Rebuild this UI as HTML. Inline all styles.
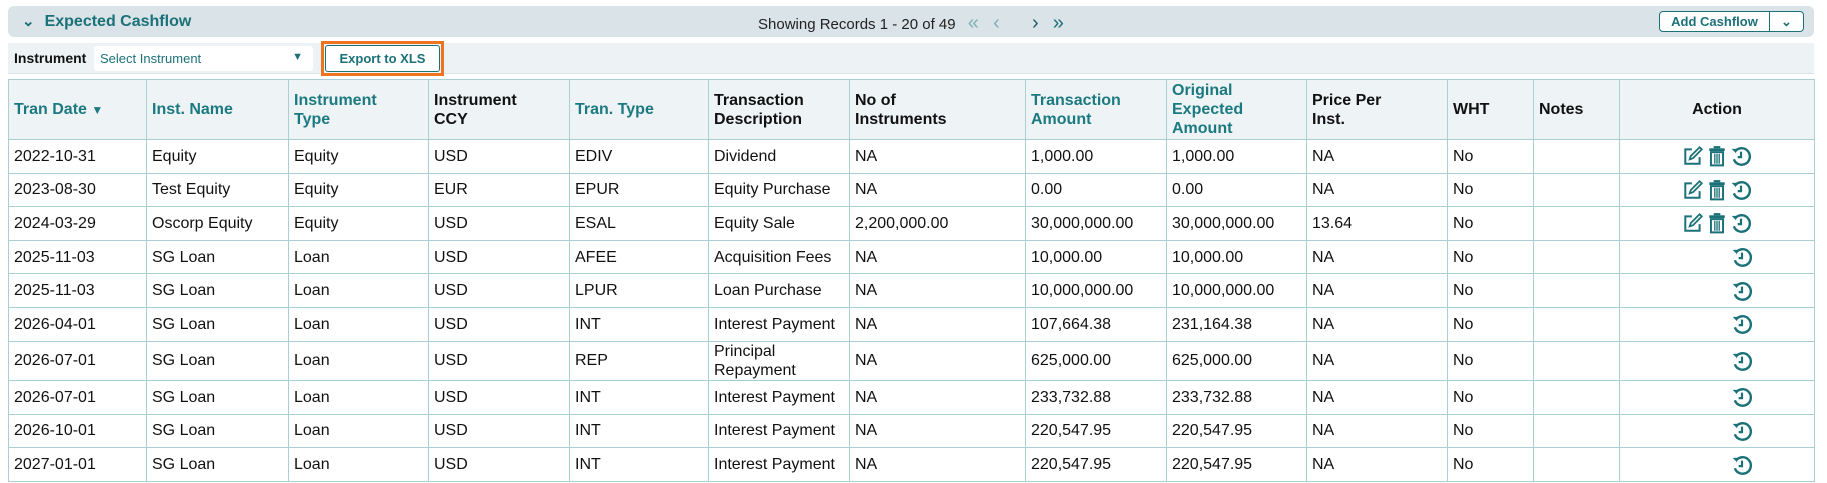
<!DOCTYPE html>
<html><head><meta charset="utf-8">
<style>
*{box-sizing:border-box;margin:0;padding:0}
body{width:1827px;height:483px;background:#fff;font-family:"Liberation Sans",Arial,sans-serif;color:#111;position:relative;overflow:hidden}
.hdr{position:absolute;left:8px;top:6px;width:1806px;height:31px;background:#d9e3e8;border-radius:6px}
.hdr .t{position:absolute;left:14px;top:6px;font-size:16px;font-weight:bold;color:#1b7178}
.hdr .c{position:absolute;left:750px;top:6px;font-size:15px;color:#222}
.btn{position:absolute;top:5px;height:21px;border:1px solid #1b7178;background:#fff;color:#1b7178;font-weight:bold;font-size:13px;text-align:center;line-height:19px}
.tb{position:absolute;left:8px;top:43px;width:1806px;height:31px;background:#edf2f4;border-bottom:1px solid #dde3e6}
table{position:absolute;left:8px;top:79px;width:1806px;border-collapse:collapse;table-layout:fixed;font-size:16px}
td,th{border:1px solid #a9cfd4;padding:0 5px;text-align:left;vertical-align:middle;line-height:19px;overflow:hidden}
th{background:#eef3f5;font-weight:bold;height:60px}
th.l{color:#1b7a80}
td{height:33.6px;white-space:nowrap}
.ic{text-align:center}
.ic svg{vertical-align:middle;margin:0 2px}
</style></head><body>
<svg width="0" height="0" style="position:absolute">
<defs>
<symbol id="e" viewBox="0 0 20 20"><path d="M9 4H3v13h13v-6" fill="none" stroke="#1b7178" stroke-width="1.8"/><path d="M7 13l1-3 8-8 2 2-8 8z" fill="none" stroke="#1b7178" stroke-width="1.6"/></symbol>
<symbol id="d" viewBox="0 0 16 20"><rect x="1" y="3" width="14" height="2.5" fill="#1b7178"/><rect x="5" y="1" width="6" height="2" fill="#1b7178"/><path d="M2.5 6.5h11v12h-11z" fill="none" stroke="#1b7178" stroke-width="1.8"/><path d="M6 8v9M8 8v9M10 8v9" stroke="#1b7178" stroke-width="1.2"/></symbol>
<symbol id="h" viewBox="0 0 20 20"><path d="M4.5 6A7.5 7.5 0 1 1 3.5 13" fill="none" stroke="#1b7178" stroke-width="2.2"/><path d="M1.5 3.5l4 0 0 4z" fill="#1b7178"/><path d="M10 6v5h-3" fill="none" stroke="#1b7178" stroke-width="2"/></symbol>
</defs></svg>
<div class="hdr">
<div class="t"><span style="font-size:15px;margin-right:10px">&#8964;</span>Expected Cashflow</div>
<div class="c">Showing Records 1 - 20 of 49 <span style="color:#7fb0b5;margin-left:8px;font-size:20px">&#171;</span> <span style="color:#7fb0b5;margin-left:10px;font-size:20px">&#8249;</span> <span style="color:#1b5e66;margin-left:28px;font-size:20px">&#8250;</span> <span style="color:#1b7178;margin-left:10px;font-size:20px">&#187;</span></div>
<div class="btn" style="left:1651px;width:111px;border-radius:4px 0 0 4px">Add Cashflow</div>
<div class="btn" style="left:1761px;width:35px;border-radius:0 4px 4px 0">&#8964;</div>
</div>
<div class="tb">
<div style="position:absolute;left:6px;top:7px;font-size:14px;font-weight:bold">Instrument</div>
<div style="position:absolute;left:86px;top:3px;width:219px;height:25px;background:#fff;border-radius:3px;font-size:13px;color:#1b7178;padding:5px 6px">Select Instrument<span style="position:absolute;right:10px;top:5px;font-size:11px">&#9660;</span></div>
<div style="position:absolute;left:313px;top:-2px;width:123px;height:35px;border:3px solid #f07320"></div>
<div style="position:absolute;left:317px;top:2px;width:115px;height:27px;border:1px solid #1b7178;border-radius:3px;background:#fff;color:#1b7178;font-size:13px;font-weight:bold;text-align:center;line-height:25px">Export to XLS</div>
</div>
<table>
<colgroup><col style="width:138px"><col style="width:142px"><col style="width:140px"><col style="width:141px"><col style="width:139px"><col style="width:141px"><col style="width:176px"><col style="width:141px"><col style="width:140px"><col style="width:141px"><col style="width:86px"><col style="width:86px"><col style="width:195px"></colgroup>
<tr><th class="l">Tran Date <span style="font-size:12px">&#9660;</span></th><th class="l">Inst. Name</th><th class="l">Instrument<br>Type</th><th>Instrument<br>CCY</th><th class="l">Tran. Type</th><th>Transaction<br>Description</th><th>No of<br>Instruments</th><th class="l">Transaction<br>Amount</th><th class="l">Original<br>Expected<br>Amount</th><th>Price Per<br>Inst.</th><th>WHT</th><th>Notes</th><th style="text-align:center">Action</th></tr>
<tr><td>2022-10-31</td><td>Equity</td><td>Equity</td><td>USD</td><td>EDIV</td><td>Dividend</td><td>NA</td><td>1,000.00</td><td>1,000.00</td><td>NA</td><td>No</td><td></td><td class="ic"><svg width="22" height="22"><use href="#e"/></svg><svg width="18" height="22"><use href="#d"/></svg><svg width="22" height="22"><use href="#h"/></svg></td></tr>
<tr><td>2023-08-30</td><td>Test Equity</td><td>Equity</td><td>EUR</td><td>EPUR</td><td>Equity Purchase</td><td>NA</td><td>0.00</td><td>0.00</td><td>NA</td><td>No</td><td></td><td class="ic"><svg width="22" height="22"><use href="#e"/></svg><svg width="18" height="22"><use href="#d"/></svg><svg width="22" height="22"><use href="#h"/></svg></td></tr>
<tr><td>2024-03-29</td><td>Oscorp Equity</td><td>Equity</td><td>USD</td><td>ESAL</td><td>Equity Sale</td><td>2,200,000.00</td><td>30,000,000.00</td><td>30,000,000.00</td><td>13.64</td><td>No</td><td></td><td class="ic"><svg width="22" height="22"><use href="#e"/></svg><svg width="18" height="22"><use href="#d"/></svg><svg width="22" height="22"><use href="#h"/></svg></td></tr>
<tr><td>2025-11-03</td><td>SG Loan</td><td>Loan</td><td>USD</td><td>AFEE</td><td>Acquisition Fees</td><td>NA</td><td>10,000.00</td><td>10,000.00</td><td>NA</td><td>No</td><td></td><td class="ic"><svg width="22" height="22" style="margin-left:52px"><use href="#h"/></svg></td></tr>
<tr><td>2025-11-03</td><td>SG Loan</td><td>Loan</td><td>USD</td><td>LPUR</td><td>Loan Purchase</td><td>NA</td><td>10,000,000.00</td><td>10,000,000.00</td><td>NA</td><td>No</td><td></td><td class="ic"><svg width="22" height="22" style="margin-left:52px"><use href="#h"/></svg></td></tr>
<tr><td>2026-04-01</td><td>SG Loan</td><td>Loan</td><td>USD</td><td>INT</td><td>Interest Payment</td><td>NA</td><td>107,664.38</td><td>231,164.38</td><td>NA</td><td>No</td><td></td><td class="ic"><svg width="22" height="22" style="margin-left:52px"><use href="#h"/></svg></td></tr>
<tr><td style="height:39.5px">2026-07-01</td><td>SG Loan</td><td>Loan</td><td>USD</td><td>REP</td><td style="white-space:normal">Principal<br>Repayment</td><td>NA</td><td>625,000.00</td><td>625,000.00</td><td>NA</td><td>No</td><td></td><td class="ic"><svg width="22" height="22" style="margin-left:52px"><use href="#h"/></svg></td></tr>
<tr><td>2026-07-01</td><td>SG Loan</td><td>Loan</td><td>USD</td><td>INT</td><td>Interest Payment</td><td>NA</td><td>233,732.88</td><td>233,732.88</td><td>NA</td><td>No</td><td></td><td class="ic"><svg width="22" height="22" style="margin-left:52px"><use href="#h"/></svg></td></tr>
<tr><td>2026-10-01</td><td>SG Loan</td><td>Loan</td><td>USD</td><td>INT</td><td>Interest Payment</td><td>NA</td><td>220,547.95</td><td>220,547.95</td><td>NA</td><td>No</td><td></td><td class="ic"><svg width="22" height="22" style="margin-left:52px"><use href="#h"/></svg></td></tr>
<tr><td>2027-01-01</td><td>SG Loan</td><td>Loan</td><td>USD</td><td>INT</td><td>Interest Payment</td><td>NA</td><td>220,547.95</td><td>220,547.95</td><td>NA</td><td>No</td><td></td><td class="ic"><svg width="22" height="22" style="margin-left:52px"><use href="#h"/></svg></td></tr>
</table>
</body></html>
